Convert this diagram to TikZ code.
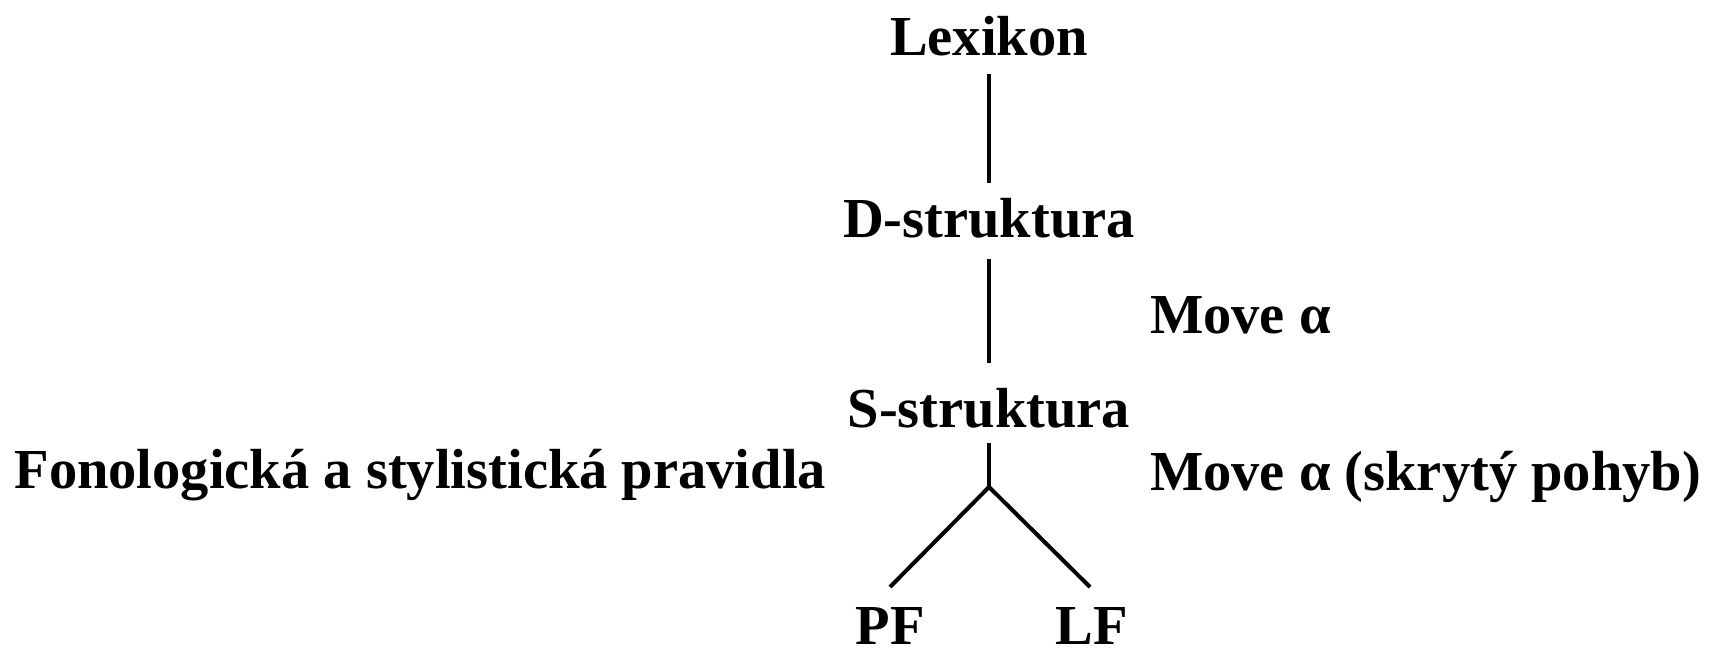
\documentclass[tikz,border=0pt]{standalone}
\usepackage{fontspec}
\setmainfont{Liberation Serif}
\usetikzlibrary{calc}
\begin{document}
\begin{tikzpicture}[x=0.5pt,y=-0.5pt,
  lbl/.style={inner sep=0pt,outer sep=0pt,text height=19.5pt,text depth=0pt,font=\fontsize{28.25}{34}\selectfont\bfseries},
  conn/.style={line width=2pt,line cap=butt}]
\useasboundingbox (0,0) rectangle (1723,653);
\node[lbl,anchor=base] (lex) at (989,55) {Lexikon};
\node[lbl,anchor=base] (ds) at (989,237) {D-struktura};
\node[lbl,anchor=base] (ss) at (989,427) {S-struktura};
\node[lbl,anchor=base] (pf) at (890,644) {PF};
\node[lbl,anchor=base] (lf) at (1092,644) {LF};
\node[lbl,anchor=base west] (mv1) at (1150,333) {Move α};
\node[lbl,anchor=base west] (mv2) at (1150,490) {Move α (skrytý pohyb)};
\node[lbl,anchor=base east] (fon) at (826,488) {Fonologická a stylistická pravidla};
\coordinate (j) at (989,487);
\draw[conn] ($(lex.south)+(0,19)$) -- ($(ds.north)+(0,-15)$);
\draw[conn] ($(ds.south)+(0,22)$) -- ($(ss.north)+(0,-25)$);
\draw[conn] ($(ss.south)+(0,16)$) -- (j);
\draw[conn,line join=miter] ($(pf.north)+(0,-18)$) -- (j) -- ($(lf.north)+(-2,-18)$);
\end{tikzpicture}
\end{document}
